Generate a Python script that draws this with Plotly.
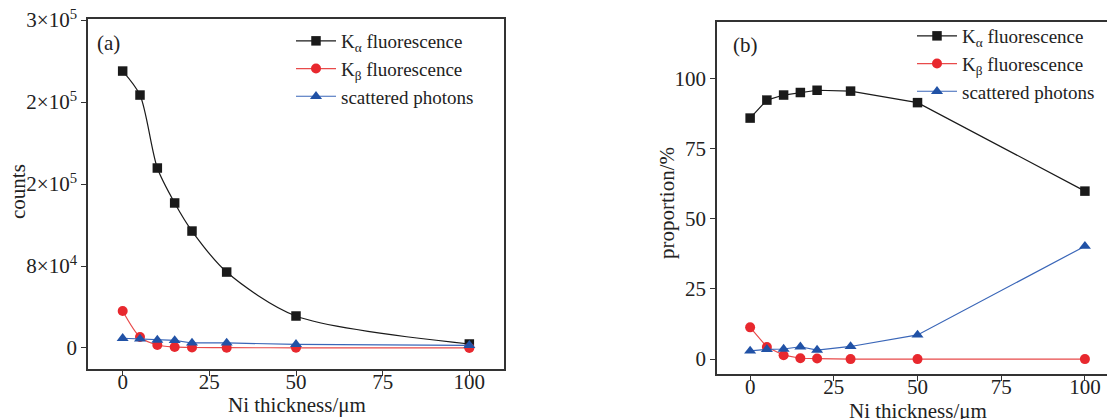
import plotly.graph_objects as go

thickness = [0, 5, 10, 15, 20, 30, 50, 100]

# panel (a): counts
counts_ka = [270200, 246800, 175600, 141500, 114100, 74100, 31200, 3900]
counts_kb = [36100, 10700, 2900, 1000, 500, 300, 200, 100]
counts_sc = [9500, 8800, 7800, 7400, 4900, 4900, 3600, 2600]

# panel (b): proportion
prop_ka = [85.8, 92.2, 94.0, 94.9, 95.7, 95.4, 91.3, 59.8]
prop_kb = [11.3, 4.3, 1.4, 0.3, 0.2, 0.0, 0.0, 0.0]
prop_sc = [2.9, 3.5, 3.6, 4.4, 3.2, 4.5, 8.6, 40.2]

names = ["K<sub>α</sub> fluorescence", "K<sub>β</sub> fluorescence", "scattered photons"]
y_tickvals_a = [0, 80000, 160000, 240000, 320000]
y_ticktext_a = ["0", "8×10<sup>4</sup>", "2×10<sup>5</sup>", "2×10<sup>5</sup>", "3×10<sup>5</sup>"]
x_ticks = [0, 25, 50, 75, 100]
y_ticks_b = [0, 25, 50, 75, 100]

BLACK = "#1a1a1a"
RED = "#e8282e"
BLUE = "#2152a6"
FONT = "Liberation Serif"
FS = 21
LFS = 19
W, H = 1107, 419

fig = go.Figure()

styles = [
    dict(color=BLACK, symbol="square", lc=BLACK, size=9.5),
    dict(color=RED, symbol="circle", lc="#e84a4a", size=10),
    dict(color=BLUE, symbol="triangle-up", lc="#3a66b8", size=10.5),
]

for i, (ys, st) in enumerate(zip([counts_ka, counts_kb, counts_sc], styles)):
    fig.add_trace(go.Scatter(
        x=thickness, y=ys, name=names[i], mode="lines+markers",
        line=dict(color=st["lc"], width=1.2, shape="spline" if i < 2 else "linear", smoothing=0.8),
        marker=dict(color=st["color"], symbol=st["symbol"], size=st["size"]),
        xaxis="x", yaxis="y", legend="legend",
    ))

for i, (ys, st) in enumerate(zip([prop_ka, prop_kb, prop_sc], styles)):
    fig.add_trace(go.Scatter(
        x=thickness, y=ys, name=names[i], mode="lines+markers",
        line=dict(color=st["lc"], width=1.2),
        marker=dict(color=st["color"], symbol=st["symbol"], size=st["size"]),
        xaxis="x2", yaxis="y2", legend="legend2",
    ))

axis_common = dict(
    showline=True, linecolor="#333333", linewidth=1.5, showgrid=False, zeroline=False,
    ticks="outside", ticklen=5, tickcolor="#333333", tickwidth=1, automargin=False,
    tickfont=dict(family=FONT, size=FS, color="#222222"),
)


def px(x):
    return x / W


def py(y):
    return (H - y) / H


fig.update_layout(
    width=W, height=H,
    margin=dict(l=0, r=0, t=0, b=0, autoexpand=False),
    paper_bgcolor="white", plot_bgcolor="white",
    font=dict(family=FONT, size=FS, color="#222222"),
    xaxis=dict(domain=[px(88), px(504)], range=[-10, 110], tickvals=x_ticks,
               mirror=True, anchor="y", ticklabelstandoff=-12, **axis_common),
    yaxis=dict(domain=[py(369), py(19)], range=[-20500, 321000], tickvals=y_tickvals_a,
               ticktext=y_ticktext_a, mirror=True, anchor="x", **axis_common),
    xaxis2=dict(domain=[px(717), 1.0], range=[-9.9, 106.6], tickvals=x_ticks,
                mirror=True, anchor="y2", ticklabelstandoff=-12, **axis_common),
    yaxis2=dict(domain=[py(374), py(22)], range=[-5.3, 120], tickvals=y_ticks_b,
                anchor="x2", **axis_common),
    legend=dict(x=px(291), y=py(22), xanchor="left", yanchor="top",
                bgcolor="rgba(0,0,0,0)", font=dict(family=FONT, size=LFS),
                tracegroupgap=0, itemwidth=40),
    legend2=dict(x=px(912), y=py(17), xanchor="left", yanchor="top",
                 bgcolor="rgba(0,0,0,0)", font=dict(family=FONT, size=LFS),
                 tracegroupgap=0, itemwidth=40),
    annotations=[
        dict(text="(a)", x=px(95), y=py(43), xref="paper", yref="paper",
             xanchor="left", yanchor="middle", showarrow=False, font=dict(family=FONT, size=FS)),
        dict(text="(b)", x=px(731), y=py(45), xref="paper", yref="paper",
             xanchor="left", yanchor="middle", showarrow=False, font=dict(family=FONT, size=FS)),
        dict(text="Ni thickness/μm", x=px(297), y=py(405), xref="paper", yref="paper",
             xanchor="center", yanchor="middle", showarrow=False, font=dict(family=FONT, size=FS)),
        dict(text="Ni thickness/μm", x=px(918), y=py(411), xref="paper", yref="paper",
             xanchor="center", yanchor="middle", showarrow=False, font=dict(family=FONT, size=FS)),
        dict(text="counts", x=px(18), y=py(192), xref="paper", yref="paper", textangle=-90,
             xanchor="center", yanchor="middle", showarrow=False, font=dict(family=FONT, size=FS)),
        dict(text="proportion/%", x=px(667), y=py(203), xref="paper", yref="paper", textangle=-90,
             xanchor="center", yanchor="middle", showarrow=False, font=dict(family=FONT, size=FS)),
    ],
)

fig.write_html("out.html", config={"displayModeBar": False},
               post_script="document.body.style.margin='0';document.body.style.overflow='hidden';")
